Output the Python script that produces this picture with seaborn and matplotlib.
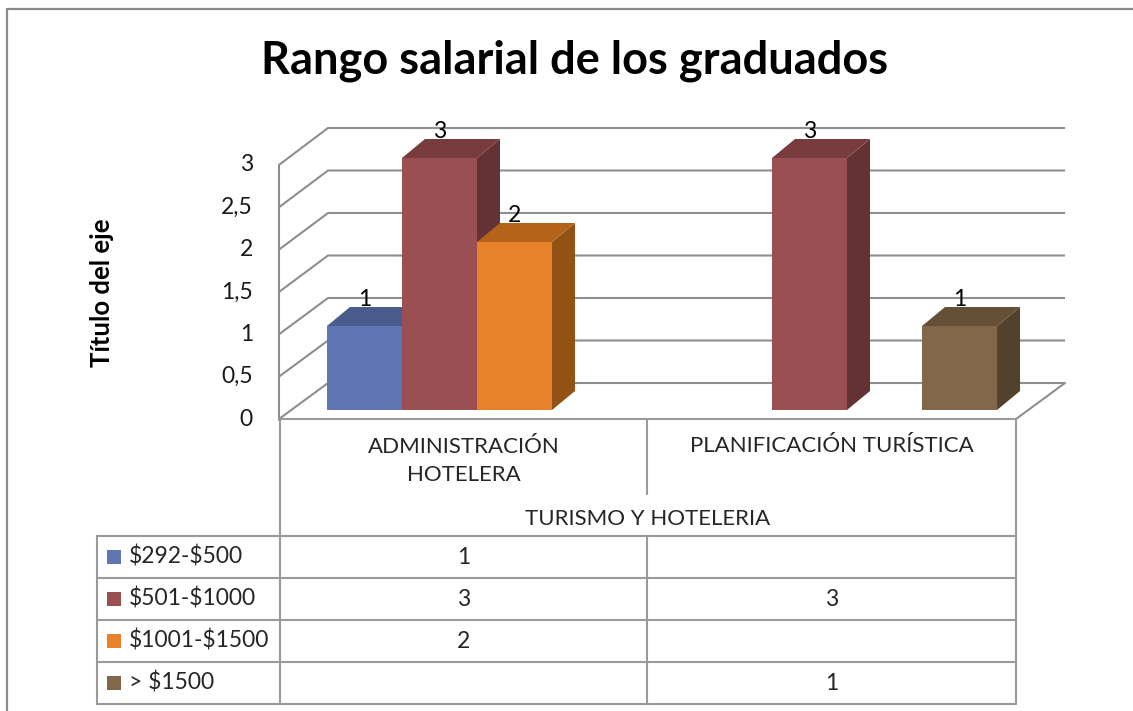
import numpy as np
import pandas as pd
import matplotlib
matplotlib.use("Agg")
import matplotlib.pyplot as plt
import seaborn as sns
from matplotlib.patches import Polygon, Rectangle
from matplotlib.colors import to_rgba

# ---------------- data ----------------
categories = ["ADMINISTRACIÓN\nHOTELERA", "PLANIFICACIÓN TURÍSTICA"]
group_label = "TURISMO Y HOTELERIA"
series = ["$292-$500", "$501-$1000", "$1001-$1500", "> $1500"]
vals_292_500 = [1, None]
vals_501_1000 = [3, 3]
vals_1001_1500 = [2, None]
vals_gt_1500 = [None, 1]
front_colors = ["#6076B4", "#9A5052", "#E7822A", "#82674A"]
top_colors = ["#4A5C8E", "#783C3E", "#B5631B", "#654F36"]
side_colors = ["#3C4B75", "#633234", "#925214", "#51412D"]
yticks = [0, 0.5, 1, 1.5, 2, 2.5, 3]
ytick_labels = ["0", "0,5", "1", "1,5", "2", "2,5", "3"]
title = "Rango salarial de los graduados"
ytitle = "Título del eje"

all_vals = [vals_292_500, vals_501_1000, vals_1001_1500, vals_gt_1500]
rows = []
for s, vals in zip(series, all_vals):
    for c, v in zip(categories, vals):
        if v is not None:
            rows.append({"cat": c, "series": s, "val": v})
df = pd.DataFrame(rows)

# ---------------- figure ----------------
sns.set_style("white")
plt.rcParams["font.family"] = ["Lato", "DejaVu Sans"]
W, H = 1133, 711
fig = plt.figure(figsize=(W / 100, H / 100), dpi=100)

# background axes in pixel coordinates
bg = fig.add_axes([0, 0, 1, 1], zorder=0)
bg.set_xlim(0, W)
bg.set_ylim(H, 0)
bg.axis("off")

grid_c = "#8E8E8E"
line_c = "#9A9A9A"
glw = 1.5

# outer frame
bg.plot([7, W], [9, 9], color="#8A8A8A", lw=1.6)
bg.plot([7, 7], [9, H], color="#8A8A8A", lw=1.6)

# 3D walls
front0, fscale = 419, 84.7
back0, bscale = 383, 85.0
xf, xb, xbr, xfr = 279, 328, 1065, 1016
for v in yticks:
    yf = front0 - fscale * v
    yb = back0 - bscale * v
    bg.plot([xf, xb, xbr], [yf, yb, yb], color=grid_c, lw=glw, solid_capstyle="butt")
bg.plot([xf, xf], [front0 - fscale * 3, front0 + 1], color=grid_c, lw=glw)
bg.plot([xfr, xbr], [front0, back0], color=grid_c, lw=glw)

for v, lab in zip(yticks, ytick_labels):
    bg.text(253, front0 - fscale * v, lab, ha="right", va="center", fontsize=16.5, color="#1a1a1a")

bg.text(102, 293, ytitle, rotation=90, ha="center", va="center", fontsize=18.5, fontweight="bold", color="black")
bg.text(575, 61, title, ha="center", va="center", fontsize=32.5, fontweight="bold", color="black")

# data table
tl, tc, tm, tr = 97, 280, 647, 1016
rows_y = [536, 578, 620, 662, 704]
bg.plot([tc, tr], [front0, front0], color=line_c, lw=glw)
for y in rows_y:
    bg.plot([tl, tr], [y, y], color=line_c, lw=glw)
bg.plot([tl, tl], [rows_y[0], rows_y[-1]], color=line_c, lw=glw)
bg.plot([tc, tc], [front0, rows_y[-1]], color=line_c, lw=glw)
bg.plot([tm, tm], [front0, 494], color=line_c, lw=glw)
bg.plot([tm, tm], [rows_y[0], rows_y[-1]], color=line_c, lw=glw)
bg.plot([tr, tr], [front0, rows_y[-1]], color=line_c, lw=glw)

cat_cx = [(tc + tm) / 2, (tm + tr) / 2]
bg.text(cat_cx[0], 461, categories[0], ha="center", va="center", fontsize=16, linespacing=1.45)
bg.text(cat_cx[1], 446, categories[1], ha="center", va="center", fontsize=16)
bg.text((tc + tr) / 2, 519, group_label, ha="center", va="center", fontsize=16)

for i, (s, vals) in enumerate(zip(series, all_vals)):
    yc = (rows_y[i] + rows_y[i + 1]) / 2
    bg.add_patch(Rectangle((107, yc - 7), 14, 14, color=front_colors[i], lw=0))
    bg.text(129, yc, s, ha="left", va="center", fontsize=16.5, parse_math=False)
    for j, v in enumerate(vals):
        if v is not None:
            bg.text(cat_cx[j], yc, str(v), ha="center", va="center", fontsize=16.5)

# bar axes: data plane of the bar fronts
y0px, unitpx = 410, 84.0
left_px, right_px = 292, 1032
ymax = 3.5
axb = fig.add_axes([left_px / W, (H - y0px) / H, (right_px - left_px) / W, ymax * unitpx / H], zorder=1)
axb.patch.set_alpha(0)

sns.barplot(data=df, x="cat", y="val", hue="series", hue_order=series, order=categories,
            palette=dict(zip(series, front_colors)), width=0.811, dodge=True, legend=False,
            linewidth=0, errorbar=None, saturation=1, ax=axb)
axb.set_xlim(-0.5, 1.5)
axb.set_ylim(0, ymax)
axb.axis("off")

xunit = (right_px - left_px) / 2.0
dx = 23 / xunit
dy = 19 / unitpx
rgba_front = [to_rgba(c) for c in front_colors]
for p in list(axb.patches):
    h = p.get_height()
    if not np.isfinite(h) or h <= 0:
        continue
    fc = p.get_facecolor()
    k = int(np.argmin([np.sum(np.abs(np.array(fc) - np.array(c))) for c in rgba_front]))
    x0 = p.get_x()
    w = p.get_width()
    x1 = x0 + w
    z = 2 + x0 * 0.5
    p.set_zorder(z)
    side = Polygon([(x1, 0), (x1 + dx, dy), (x1 + dx, h + dy), (x1, h)], closed=True,
                   facecolor=side_colors[k], edgecolor="none", zorder=z)
    top = Polygon([(x0, h), (x1, h), (x1 + dx, h + dy), (x0 + dx, h + dy)], closed=True,
                  facecolor=top_colors[k], edgecolor="none", zorder=z)
    axb.add_patch(side)
    axb.add_patch(top)
    axb.text(x0 + w / 2, h + dy + 8 / unitpx, f"{h:g}", ha="center", va="center",
             fontsize=16.5, color="black", zorder=10)

fig.savefig("out.png", dpi=100)
